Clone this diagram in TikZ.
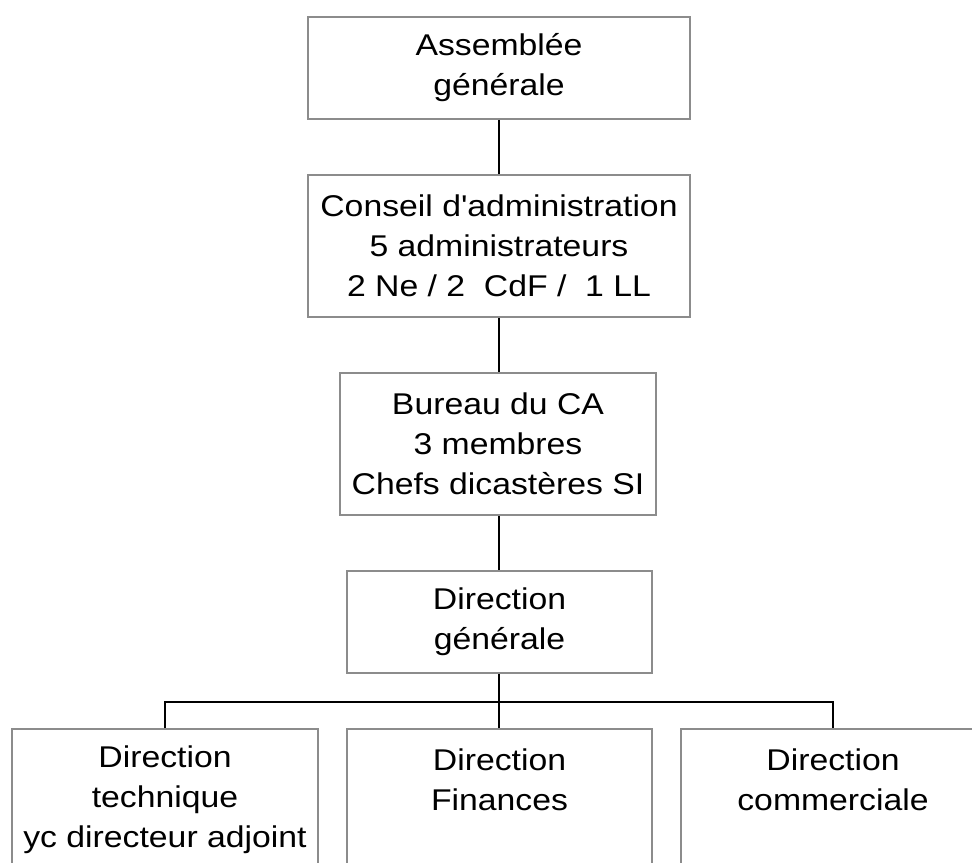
\documentclass[tikz,border=0pt]{standalone}
\usepackage{fontspec}
\setmainfont{Liberation Sans}[FakeStretch=1.125, Ligatures=TeXOff]
\definecolor{boxgray}{RGB}{140,140,140}
\tikzset{
  orgbox/.style={draw=boxgray, line width=1.8bp, fill=white, align=center,
    inner sep=0pt, font=\fontsize{30bp}{40bp}\selectfont},
  link/.style={draw=black, line width=2bp}
}
\begin{document}
\begin{tikzpicture}[x=1bp,y=-1bp]
\clip (0,0) rectangle (972,863);
\fill[white] (0,0) rectangle (972,863);
\node[orgbox, minimum width=382bp, minimum height=102bp] (ag) at (499,68) {Assemblée\\générale};
\node[orgbox, minimum width=382bp, minimum height=142bp] (ca) at (499,246) {Conseil d'administration\\5 administrateurs\\2 Ne / 2~~CdF /~~1 LL};
\node[orgbox, minimum width=316bp, minimum height=142bp] (bu) at (498,444) {Bureau du CA\\3 membres\\Chefs dicastères SI};
\node[orgbox, minimum width=305bp, minimum height=102bp] (dg) at (499.5,622) {Direction\\générale};
\node[orgbox, minimum width=306bp, minimum height=142bp] (ta) at (165,800) {Direction\\technique\\yc directeur adjoint};
\node[orgbox, minimum width=305bp, minimum height=142bp] (tf) at (499.5,800) {Direction\\Finances\\~};
\node[orgbox, minimum width=304bp, minimum height=142bp] (tc) at (833,800) {Direction\\commerciale\\~};
\coordinate (bus) at (499,702);
\draw[link] (ag.south -| bus) -- (ca.north -| bus);
\draw[link] (ca.south -| bus) -- (bu.north -| bus);
\draw[link] (bu.south -| bus) -- (dg.north -| bus);
\draw[link] (dg.south -| bus) -- (tf.north -| bus);
\draw[link] (ta.north) |- (bus) -| (tc.north);
\end{tikzpicture}
\end{document}
